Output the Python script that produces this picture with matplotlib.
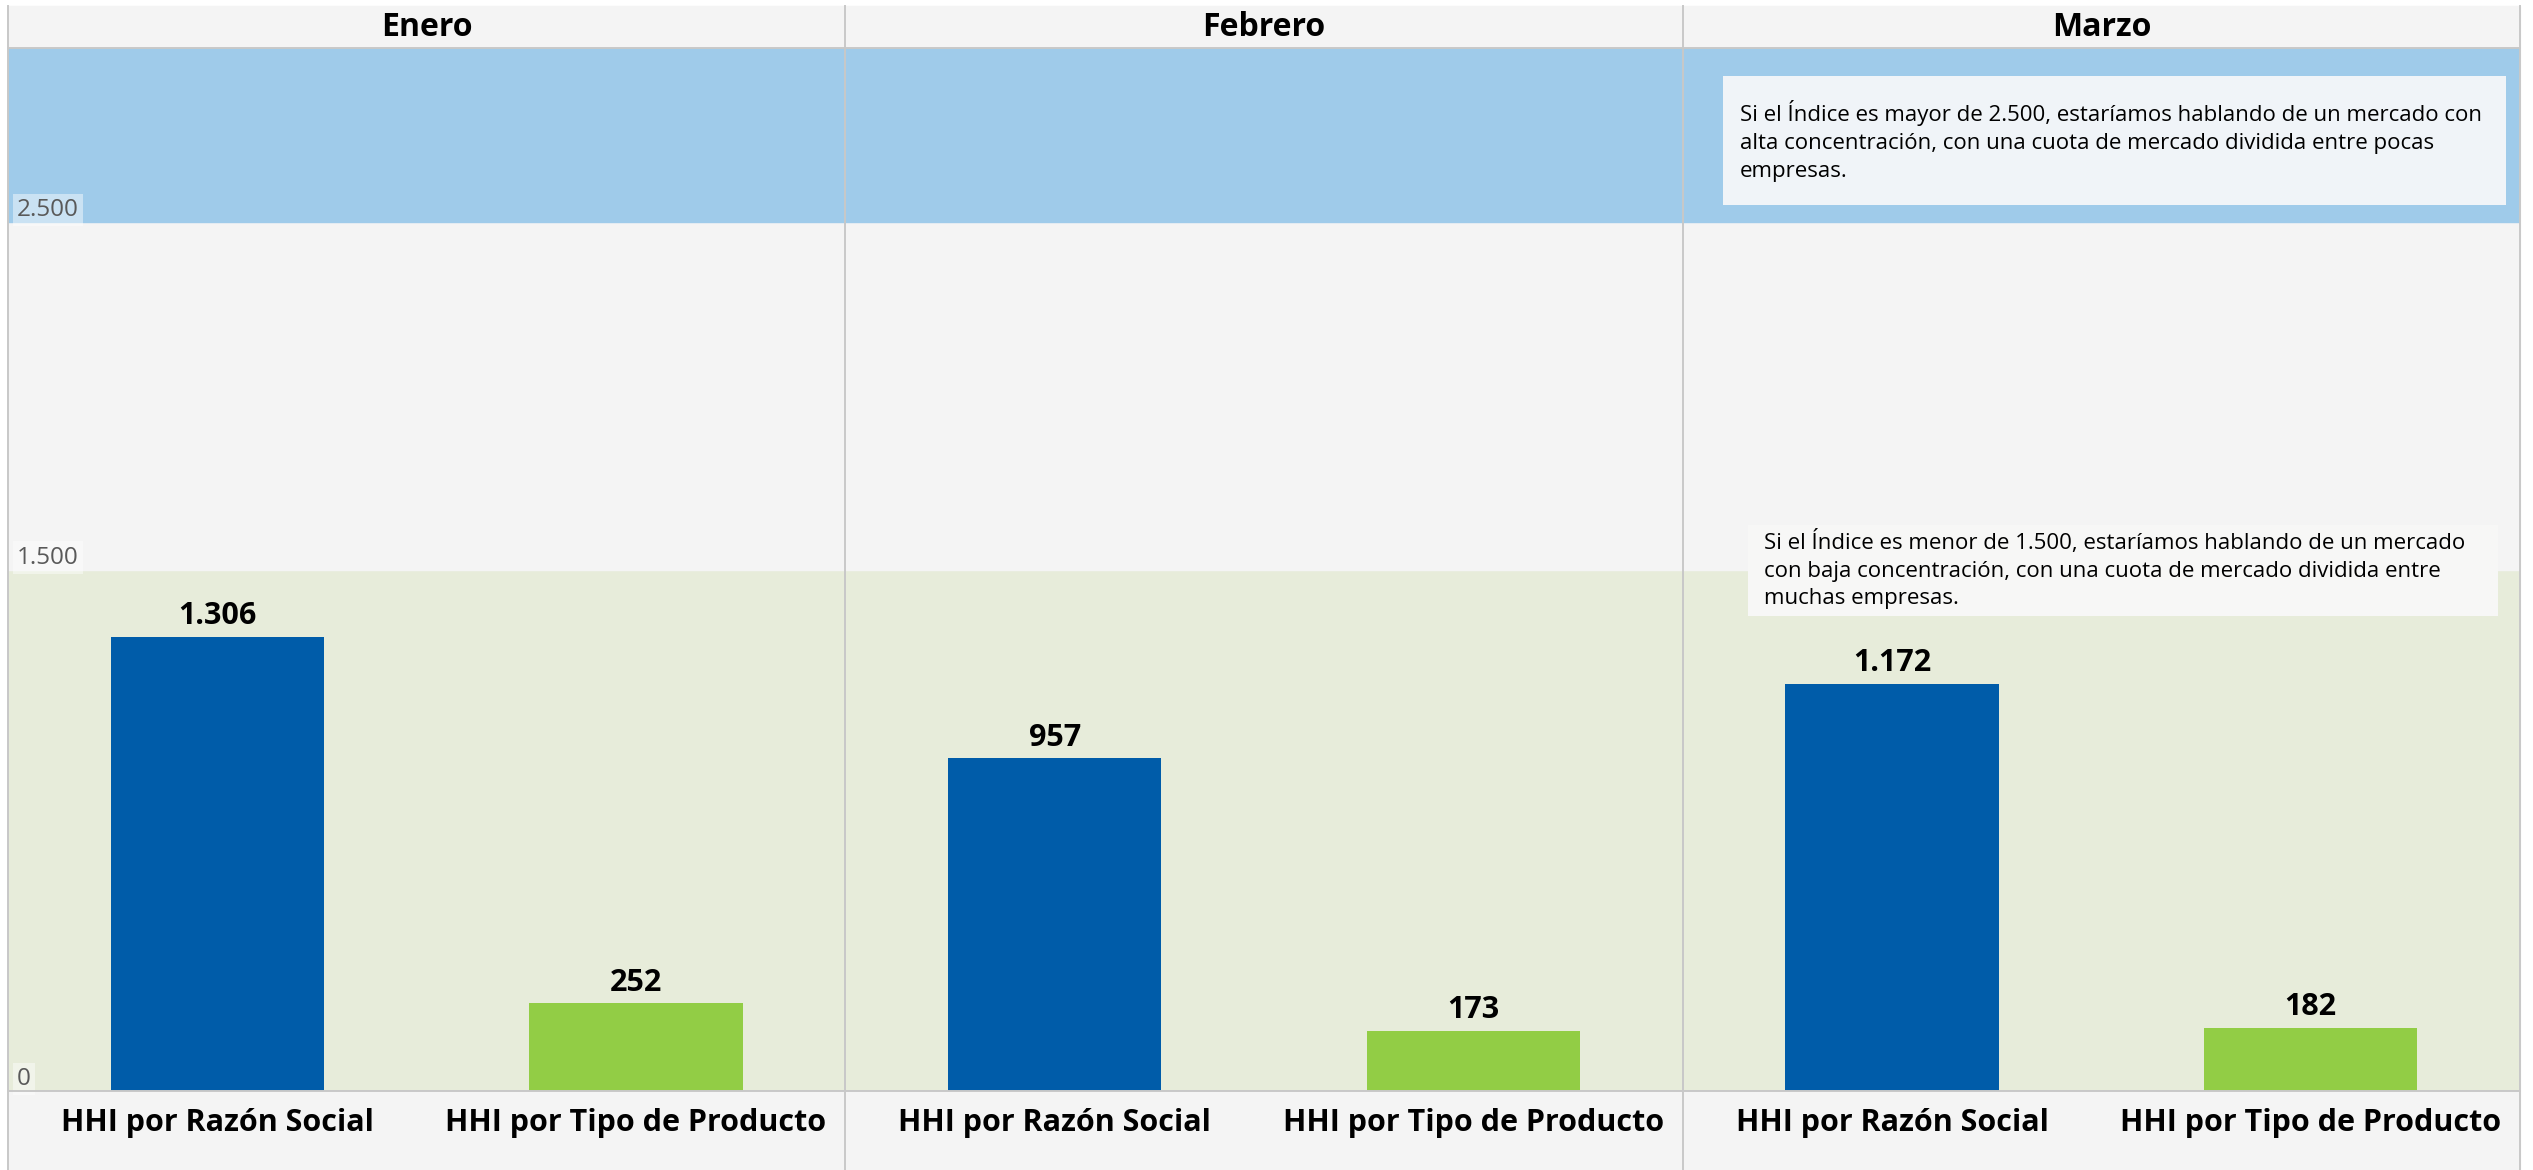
import numpy as np
import matplotlib.pyplot as plt
from matplotlib.patches import Rectangle
from matplotlib.lines import Line2D

plt.rcParams['font.family'] = ['Open Sans', 'DejaVu Sans']

# datos
meses = ["Enero", "Febrero", "Marzo"]
categorias = ["HHI por Razón Social", "HHI por Tipo de Producto"]
hhi_razon_social = [1306, 957, 1172]
hhi_tipo_producto = [252, 173, 182]
limite_baja = 1500
limite_alta = 2500
eje_max = 3000
ticks = [0, 1500, 2500]
tick_labels = ["0", "1.500", "2.500"]
nota_alta = ("Si el Índice es mayor de 2.500, estaríamos hablando de un mercado con\n"
             "alta concentración, con una cuota de mercado dividida entre pocas\n"
             "empresas.")
nota_baja = ("Si el Índice es menor de 1.500, estaríamos hablando de un mercado\n"
             "con baja concentración, con una cuota de mercado dividida entre\n"
             "muchas empresas.")

def fmt(v):
    return f"{v:,}".replace(",", ".")

# layout en pixeles
W, H = 2533, 1170
left, right = 8, 2520
top_hdr, top_plot, zero = 6, 48, 1091
fx = lambda x: x / W
fy = lambda y: 1 - y / H

fig = plt.figure(figsize=(W / 100, H / 100), dpi=100)
fig.patches.append(Rectangle((fx(left), 0), fx(right - left), fy(top_hdr),
                             transform=fig.transFigure, color="#f4f4f4", zorder=-5))

edges = np.linspace(left, right, 4)
colores = ["#005ca9", "#92cd45"]
axes = []
for i, mes in enumerate(meses):
    ax = fig.add_axes([fx(edges[i]), fy(zero), fx(edges[i + 1] - edges[i]), (zero - top_plot) / H])
    ax.axhspan(0, limite_baja, color="#e7ecda", zorder=0)
    ax.axhspan(limite_baja, limite_alta, color="#f4f4f4", zorder=0)
    ax.axhspan(limite_alta, eje_max, color="#9fcbea", zorder=0)
    vals = [hhi_razon_social[i], hhi_tipo_producto[i]]
    bars = ax.bar([0, 1], vals, width=0.51, color=colores, zorder=2)
    for b, v in zip(bars, vals):
        ax.annotate(fmt(v), (b.get_x() + b.get_width() / 2, v), xytext=(0, 9),
                    textcoords="offset points", ha="center", va="baseline",
                    fontsize=22, fontweight="bold", color="black")
    ax.set_xlim(-0.5, 1.5)
    ax.set_ylim(0, eje_max)
    ax.set_yticks([])
    ax.set_xticks([0, 1])
    ax.set_xticklabels(categorias, fontsize=22, fontweight="bold")
    ax.tick_params(axis="x", length=0, pad=12)
    for s in ax.spines.values():
        s.set_visible(False)
    fig.text(fx((edges[i] + edges[i + 1]) / 2), fy(27), mes, ha="center", va="center",
             fontsize=23, fontweight="bold")
    axes.append(ax)

# etiquetas del eje en el primer panel
for t, lab in zip(ticks, tick_labels):
    axes[0].text(0.011, t, lab, transform=axes[0].get_yaxis_transform(), ha="left", va="bottom",
                 fontsize=17.5, color="#595959", zorder=3,
                 bbox=dict(facecolor="white", alpha=0.45, edgecolor="none", pad=3))

# notas en Marzo
ax = axes[2]
ax.add_patch(Rectangle((0.048, 0.849), 0.935, 0.124, transform=ax.transAxes,
                       facecolor="#f0f4f8", edgecolor="none", zorder=3))
ax.text(0.068, 0.911, nota_alta, transform=ax.transAxes, ha="left", va="center",
        fontsize=16, linespacing=1.42, zorder=4)
ax.add_patch(Rectangle((0.078, 0.455), 0.896, 0.088, transform=ax.transAxes,
                       facecolor="#f7f7f6", edgecolor="none", zorder=3))
ax.text(0.097, 0.5, nota_baja, transform=ax.transAxes, ha="left", va="center",
        fontsize=16, linespacing=1.42, zorder=4)

# lineas divisorias
lc = "#c8c8c8"
for x in edges:
    fig.add_artist(Line2D([fx(x), fx(x)], [fy(top_hdr), 0], color=lc, lw=1.4))
for y in [top_plot, zero]:
    fig.add_artist(Line2D([fx(left), fx(right)], [fy(y), fy(y)], color=lc, lw=1.4))

fig.savefig("out.png", dpi=100, facecolor="white")
